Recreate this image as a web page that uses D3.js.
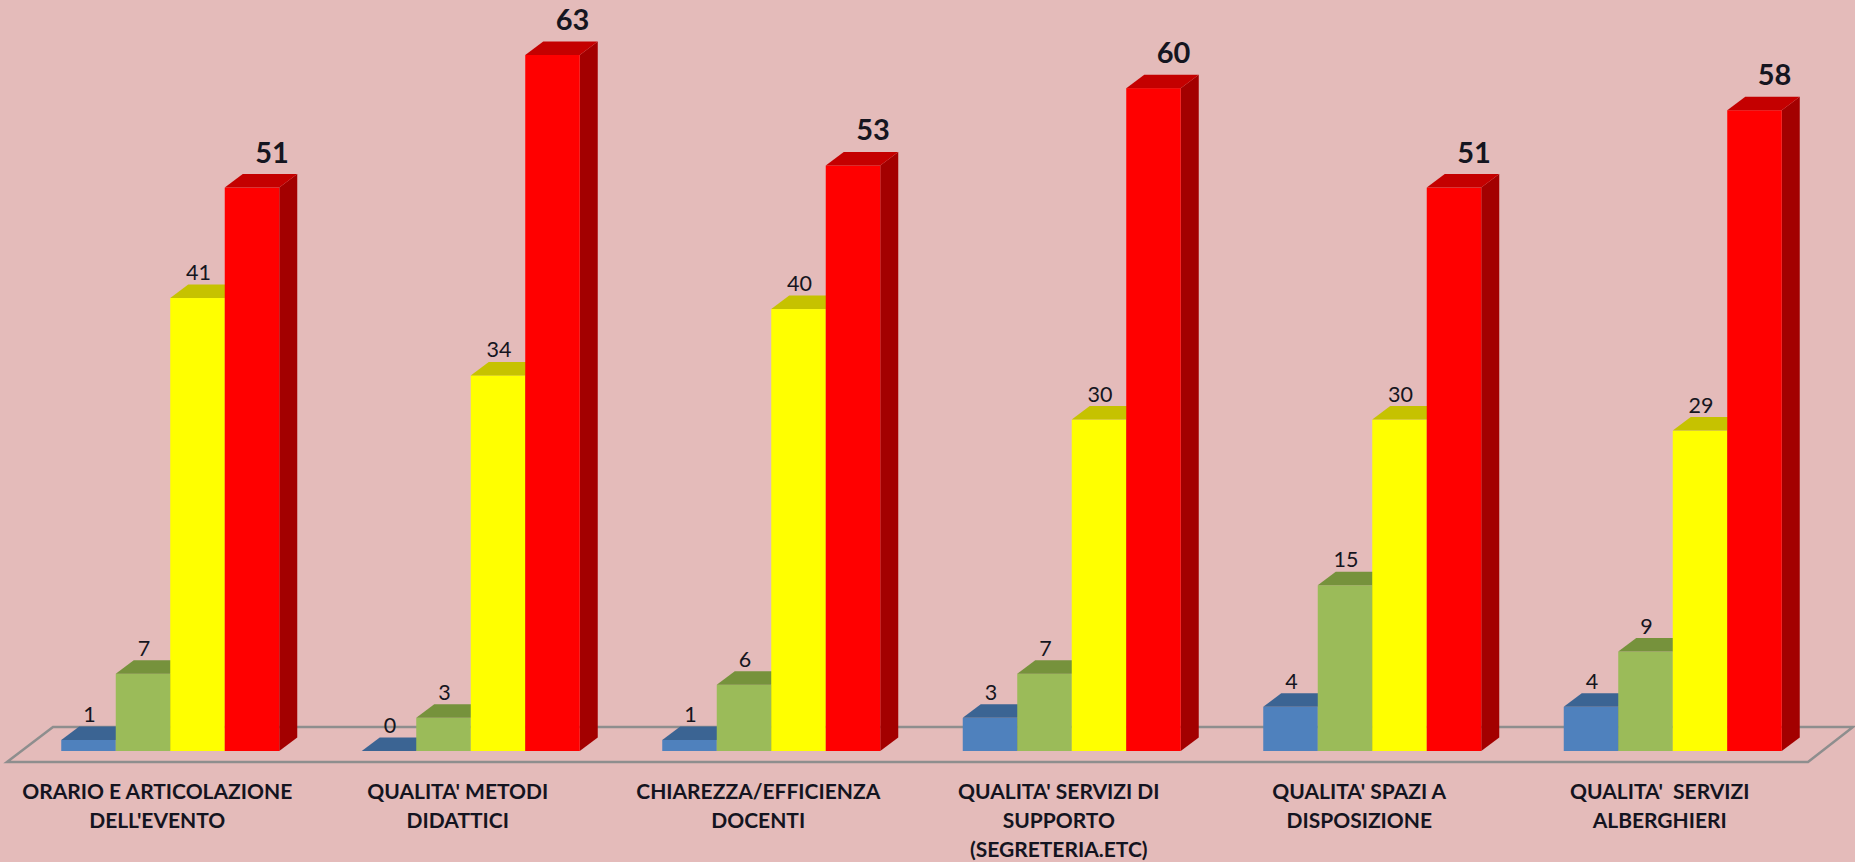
<!DOCTYPE html>
<html>
<head>
<meta charset="utf-8">
<script src="https://cdn.jsdelivr.net/npm/d3@7"></script>
<style>
  html, body { margin: 0; padding: 0; background: #E4BBBA; }
  svg { display: block; }
</style>
</head>
<body>
<svg id="chart" width="1855" height="862"></svg>
<script>
// ---- DATA ----
const categories = [
  "ORARIO E ARTICOLAZIONE DELL'EVENTO",
  "QUALITA' METODI DIDATTICI",
  "CHIAREZZA/EFFICIENZA DOCENTI",
  "QUALITA' SERVIZI DI SUPPORTO (SEGRETERIA.ETC)",
  "QUALITA' SPAZI A DISPOSIZIONE",
  "QUALITA'  SERVIZI ALBERGHIERI"
];
const categoryLines = [
  ["ORARIO E ARTICOLAZIONE", "DELL'EVENTO"],
  ["QUALITA' METODI", "DIDATTICI"],
  ["CHIAREZZA/EFFICIENZA", "DOCENTI"],
  ["QUALITA' SERVIZI DI", "SUPPORTO", "(SEGRETERIA.ETC)"],
  ["QUALITA' SPAZI A", "DISPOSIZIONE"],
  ["QUALITA'  SERVIZI", "ALBERGHIERI"]
];
const seriesNames = ["Serie 1", "Serie 2", "Serie 3", "Serie 4"];
const serie1 = [1, 0, 1, 3, 4, 4];
const serie2 = [7, 3, 6, 7, 15, 9];
const serie3 = [41, 34, 40, 30, 30, 29];
const serie4 = [51, 63, 53, 60, 51, 58];
const seriesValues = [serie1, serie2, serie3, serie4];

// ---- STYLE ----
const palette = [
  { front: "#4F81BD", top: "#3B6493", side: "#2E4F75" },
  { front: "#9BBB59", top: "#76923C", side: "#5E7530" },
  { front: "#FFFF00", top: "#C6C200", side: "#A3A000" },
  { front: "#FF0000", top: "#C40000", side: "#A30000" }
];

const svg = d3.select("#chart");
const DX = 18, DY = 13.5;   // 3D depth offsets
const groupW = 218;

const x0 = d3.scaleBand().domain(categories).range([20, 1823]).padding(0);
const x1 = d3.scaleBand().domain(seriesNames).range([0, groupW]).padding(0);
const y = d3.scaleLinear().domain([0, 63]).range([751, 55]);

const groupStart = c => x0(c) + (x0.bandwidth() - groupW) / 2;

// ---- FLOOR ----
const [r0, r1] = x0.range();
const yb = y(0);
const floorPts = [
  [r0 - 13, yb + 11], [r0 + 33, yb - 24],
  [r1 + 30, yb - 24], [r1 - 15, yb + 11]
];
svg.append("polygon")
  .attr("points", floorPts.map(p => p.join(",")).join(" "))
  .attr("fill", "none")
  .attr("stroke", "#8E8E8E")
  .attr("stroke-width", 2.5)
  .attr("stroke-linejoin", "miter");

// ---- BARS ----
const bars = svg.append("g");
categories.forEach((c, ci) => {
  seriesNames.forEach((s, si) => {
    const v = seriesValues[si][ci];
    const xl = groupStart(c) + x1(s);
    const w = x1.bandwidth();
    const yt = y(v);
    const col = palette[si];
    const g = bars.append("g");
    // side
    g.append("polygon")
      .attr("points", [[xl + w, yt], [xl + w + DX, yt - DY], [xl + w + DX, yb - DY], [xl + w, yb]].map(p => p.join(",")).join(" "))
      .attr("fill", col.side);
    // front
    g.append("rect")
      .attr("x", xl).attr("y", yt)
      .attr("width", w).attr("height", Math.max(0, yb - yt))
      .attr("fill", col.front);
    // top
    g.append("polygon")
      .attr("points", [[xl, yt], [xl + DX, yt - DY], [xl + w + DX, yt - DY], [xl + w, yt]].map(p => p.join(",")).join(" "))
      .attr("fill", col.top);
  });
});

// ---- VALUE LABELS ----
categories.forEach((c, ci) => {
  seriesNames.forEach((s, si) => {
    const v = seriesValues[si][ci];
    const xc = groupStart(c) + x1(s) + x1.bandwidth() / 2;
    const isLast = si === seriesNames.length - 1;
    svg.append("text")
      .attr("x", isLast ? xc + 20 : xc + 1)
      .attr("y", isLast ? y(v) - 25 : y(v) - 18)
      .attr("text-anchor", "middle")
      .attr("font-family", "Lato, 'Open Sans', sans-serif")
      .attr("font-weight", isLast ? 700 : 400)
      .attr("font-size", isLast ? 29 : 21.5)
      .attr("fill", "#151520")
      .text(v);
  });
});

// ---- CATEGORY LABELS ----
categories.forEach((c, ci) => {
  const xc = x0(c) + x0.bandwidth() / 2 - 13;
  const t = svg.append("text")
    .attr("text-anchor", "middle")
    .attr("font-family", "Lato, 'Open Sans', sans-serif")
    .attr("font-weight", 700)
    .attr("font-size", 21)
    .attr("fill", "#141420")
    .style("white-space", "pre");
  categoryLines[ci].forEach((line, li) => {
    t.append("tspan")
      .attr("x", xc)
      .attr("y", 799 + li * 29)
      .text(line);
  });
});
</script>
</body>
</html>
